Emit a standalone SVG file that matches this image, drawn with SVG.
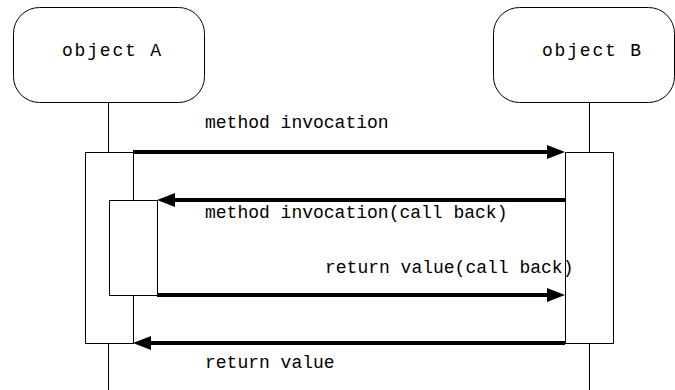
<svg xmlns="http://www.w3.org/2000/svg" width="675" height="390" viewBox="0 0 675 390">
  <style>
    .obj { fill: #ffffff; stroke: #000000; stroke-width: 1; }
    .life { stroke: #000000; stroke-width: 1; fill: none; }
    .act { fill: #ffffff; stroke: #000000; stroke-width: 1; }
    .msg { stroke: #000000; stroke-width: 4; fill: none; marker-end: url(#head); }
    .lbl { font-family: "Liberation Mono", "Courier New", monospace; font-size: 18px; fill: #000000; }
    .name { letter-spacing: 1.8px; }
  </style>
  <defs>
    <marker id="head" markerUnits="userSpaceOnUse" markerWidth="18" markerHeight="14" refX="2" refY="7" orient="auto">
      <path d="M0,0 L18,7 L0,14 Z" fill="#000000"/>
    </marker>
  </defs>
  <rect width="675" height="390" fill="#ffffff"/>

  <!-- lifelines -->
  <g id="lifelines">
    <line class="life" x1="108.5" y1="102" x2="108.5" y2="390"/>
    <line class="life" x1="589.5" y1="102" x2="589.5" y2="390"/>
  </g>

  <g id="objectA">
    <rect class="obj" x="13.5" y="7.5" width="191" height="95" rx="26" ry="26"/>
    <text class="lbl name" x="62" y="56">object A</text>
  </g>

  <g id="objectB">
    <rect class="obj" x="493.5" y="7.5" width="181" height="95" rx="26" ry="26"/>
    <text class="lbl name" x="542" y="56">object B</text>
  </g>

  <!-- activations -->
  <g id="activationA">
    <rect class="act" x="85.5" y="152.5" width="48" height="191"/>
  </g>
  <g id="activationA-callback">
    <rect class="act" x="109.5" y="200.5" width="48" height="95"/>
  </g>
  <g id="activationB">
    <rect class="act" x="565.5" y="152.5" width="48" height="191"/>
  </g>

  <!-- messages -->
  <g id="connectors">
    <line class="msg" x1="133" y1="152" x2="549" y2="152"/>
    <line class="msg" x1="565" y1="200" x2="173" y2="200"/>
    <line class="msg" x1="157" y1="295" x2="549" y2="295"/>
    <line class="msg" x1="565" y1="343" x2="149" y2="343"/>
  </g>

  <g id="labels">
    <text class="lbl" x="205" y="128">method invocation</text>
    <text class="lbl" x="205" y="218">method invocation(call back)</text>
    <text class="lbl" x="325" y="273">return value(call back)</text>
    <text class="lbl" x="205" y="368">return value</text>
  </g>
</svg>
